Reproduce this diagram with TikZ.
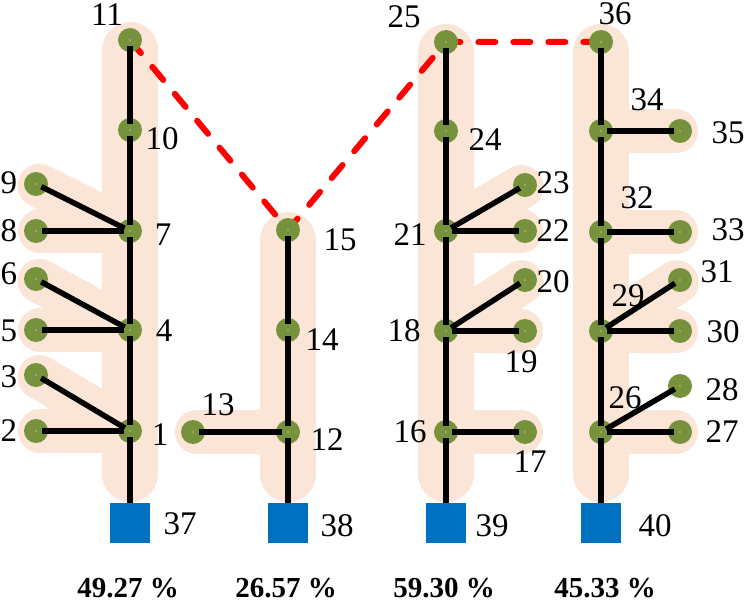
\documentclass[tikz,border=0pt]{standalone}
\usepackage{fontspec}
\setmainfont{Liberation Serif}
\definecolor{bandc}{RGB}{251,229,214}
\definecolor{olivec}{RGB}{118,146,60}
\definecolor{sqbluec}{RGB}{0,112,192}
\pgfdeclarelayer{bg}
\pgfsetlayers{bg,main}
\begin{document}
\begin{tikzpicture}[x=1pt,y=-1pt,
  bus/.style={circle,fill=olivec,minimum size=24pt,inner sep=0pt,
    path picture={\fill[white] (path picture bounding box.center) circle (0.7pt);}},
  subst/.style={rectangle,fill=sqbluec,minimum size=40pt,inner sep=0pt},
  lbl/.style={font=\fontsize{33}{33}\selectfont,inner sep=0pt},
  pct/.style={font=\fontsize{29}{29}\selectfont\bfseries,inner sep=0pt},
  link/.style={line width=5.5pt,shorten <=6pt,shorten >=6pt},
  feed/.style={line width=5.5pt,shorten <=6pt},
  mainband/.style={draw=bandc,line width=56pt,line cap=round},
  branchband/.style={draw=bandc,line width=44pt,line cap=round,shorten <=4pt},
  tie/.style={draw=red,line width=6pt,dash pattern=on 17pt off 18pt,line cap=round,line join=round}]
\useasboundingbox (0,0) rectangle (745,607);

% ---- column 1
\node[bus] (n11) at (130,40) {};
\node[bus] (n10) at (130,130) {};
\node[bus] (n7) at (130,231) {};
\node[bus] (n4) at (130,330) {};
\node[bus] (n1) at (130,431) {};
\node[bus] (n9) at (36,184) {};
\node[bus] (n8) at (36,231) {};
\node[bus] (n6) at (36,279) {};
\node[bus] (n5) at (36,330) {};
\node[bus] (n3) at (36,375) {};
\node[bus] (n2) at (36,431) {};
\node[subst] (s37) at (130,523) {};
% ---- column 2
\node[bus] (n15) at (288,230) {};
\node[bus] (n14) at (288,330) {};
\node[bus] (n12) at (288,432) {};
\node[bus] (n13) at (193,432) {};
\node[subst] (s38) at (288,523) {};
% ---- column 3
\node[bus] (n25) at (446,42) {};
\node[bus] (n24) at (446,131) {};
\node[bus] (n21) at (446,231) {};
\node[bus] (n18) at (446,331) {};
\node[bus] (n16) at (446,432) {};
\node[bus] (n23) at (525,185) {};
\node[bus] (n22) at (525,231) {};
\node[bus] (n20) at (525,280) {};
\node[bus] (n19) at (525,331) {};
\node[bus] (n17) at (525,432) {};
\node[subst] (s39) at (446,523) {};
% ---- column 4
\node[bus] (n36) at (601,42) {};
\node[bus] (n34) at (601,131) {};
\node[bus] (n32) at (601,232) {};
\node[bus] (n29) at (601,331) {};
\node[bus] (n26) at (601,432) {};
\node[bus] (n35) at (680,131) {};
\node[bus] (n33) at (680,232) {};
\node[bus] (n31) at (680,280) {};
\node[bus] (n30) at (680,331) {};
\node[bus] (n28) at (680,386) {};
\node[bus] (n27) at (680,432) {};
\node[subst] (s40) at (601,523) {};

\begin{pgfonlayer}{bg}
  % bands
  \draw[mainband] ([yshift=-10pt]n11.center) -- ([yshift=49pt]s37.center);
  \foreach \a/\b in {n9/n7,n8/n7,n6/n4,n5/n4,n3/n1,n2/n1}
    \draw[branchband] (\a.center) -- (\b.center);
  \draw[mainband] ([yshift=-10pt]n15.center) -- ([yshift=49pt]s38.center);
  \draw[branchband] (n13.center) -- (n12.center);
  \draw[mainband] ([yshift=-10pt]n25.center) -- ([yshift=49pt]s39.center);
  \foreach \a/\b in {n23/n21,n22/n21,n20/n18,n19/n18,n17/n16}
    \draw[branchband] (\a.center) -- (\b.center);
  \draw[mainband] ([yshift=-10pt]n36.center) -- ([yshift=49pt]s40.center);
  \foreach \a/\b in {n35/n34,n33/n32,n31/n29,n30/n29,n27/n26}
    \draw[branchband] (\a.center) -- (\b.center);
  % tie lines
  \draw[tie] (n11.center) -- (n15.center) -- (n25.center) -- (n36.center);
\end{pgfonlayer}

% ---- lines
\foreach \a/\b in {n11/n10,n10/n7,n7/n4,n4/n1,n9/n7,n8/n7,n6/n4,n5/n4,n3/n1,n2/n1,
  n15/n14,n14/n12,n13/n12,
  n25/n24,n24/n21,n21/n18,n18/n16,n23/n21,n22/n21,n20/n18,n19/n18,n17/n16,
  n36/n34,n34/n32,n32/n29,n29/n26,n35/n34,n33/n32,n31/n29,n30/n29,n28/n26,n27/n26}
  \draw[link] (\a.center) -- (\b.center);
\draw[feed] (n1.center) -- (s37.north);
\draw[feed] (n12.center) -- (s38.north);
\draw[feed] (n16.center) -- (s39.north);
\draw[feed] (n26.center) -- (s40.north);

% ---- labels
\node[lbl] (l11) at (107,15) {11};
\node[lbl] (l10) at (162,139) {10};
\node[lbl] (l7) at (163,235) {7};
\node[lbl] (l4) at (164,331) {4};
\node[lbl] (l1) at (160,435) {1};
\node[lbl] (l9) at (9,183) {9};
\node[lbl] (l8) at (9,231) {8};
\node[lbl] (l6) at (9,274) {6};
\node[lbl] (l5) at (9,331) {5};
\node[lbl] (l3) at (9,377) {3};
\node[lbl] (l2) at (9,431) {2};
\node[lbl] (l37) at (180,524) {37};
\node[lbl] (l15) at (340,240) {15};
\node[lbl] (l14) at (322,340) {14};
\node[lbl] (l12) at (327,440) {12};
\node[lbl] (l13) at (218,405) {13};
\node[lbl] (l38) at (337,526) {38};
\node[lbl] (l25) at (404,17) {25};
\node[lbl] (l24) at (485,140) {24};
\node[lbl] (l21) at (410,235) {21};
\node[lbl] (l18) at (404,331) {18};
\node[lbl] (l16) at (410,432) {16};
\node[lbl] (l23) at (553,183) {23};
\node[lbl] (l22) at (553,231) {22};
\node[lbl] (l20) at (553,282) {20};
\node[lbl] (l19) at (521,362) {19};
\node[lbl] (l17) at (530,462) {17};
\node[lbl] (l39) at (492,526) {39};
\node[lbl] (l36) at (615,14) {36};
\node[lbl] (l34) at (647,100) {34};
\node[lbl] (l32) at (637,198) {32};
\node[lbl] (l29) at (628,296) {29};
\node[lbl] (l26) at (625,398) {26};
\node[lbl] (l35) at (728,133) {35};
\node[lbl] (l33) at (728,230) {33};
\node[lbl] (l31) at (717,272) {31};
\node[lbl] (l30) at (723,332) {30};
\node[lbl] (l28) at (722,390) {28};
\node[lbl] (l27) at (722,432) {27};
\node[lbl] (l40) at (655,526) {40};

\node[pct] (p1) at (128,588) {49.27\kern0.25em\%};
\node[pct] (p2) at (286,588) {26.57\kern0.25em\%};
\node[pct] (p3) at (444,588) {59.30\kern0.25em\%};
\node[pct] (p4) at (605,588) {45.33\kern0.25em\%};
\end{tikzpicture}
\end{document}
